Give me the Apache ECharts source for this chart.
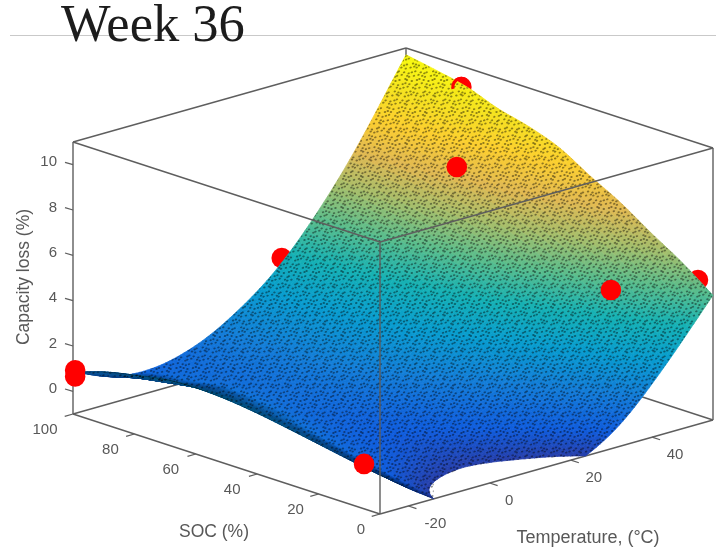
<!DOCTYPE html>
<html><head><meta charset="utf-8">
<script src="https://cdn.jsdelivr.net/npm/echarts@6/dist/echarts.min.js"></script>
<style>html,body{margin:0;padding:0;background:#fff}#c{width:716px;height:550px}</style></head>
<body><div id="c"></div>
<script>
// ---- data ----
const socGrid = [0,10,20,30,40,50,60,70,80,90,100];
const tempGrid = [-27,-17,-7,3,12.5,22.5,32,42,55];
const lossSoc0   = [0.72,-0.6,-1.7,-2.0,-1.7,-1.1,-0.05,1.75,4.5];
const lossSoc10  = [0.95,-0.25,-0.93,-1.15,-0.92,-0.35,0.75,2.63,5.5];
const lossSoc20  = [1.2,0.08,-0.40,-0.62,-0.38,0.26,1.45,3.39,6.35];
const lossSoc30  = [1.45,0.36,-0.18,-0.30,0.06,0.87,2.18,4.18,7.25];
const lossSoc40  = [1.68,0.62,0.02,-0.02,0.49,1.42,2.80,4.85,8.0];
const lossSoc50  = [1.85,0.83,0.21,0.28,0.87,1.85,3.29,5.45,8.8];
const lossSoc60  = [1.92,0.94,0.39,0.51,1.13,2.16,3.65,5.85,9.3];
const lossSoc70  = [1.85,0.91,0.44,0.60,1.27,2.35,3.92,6.15,9.65];
const lossSoc80  = [1.6,0.72,0.36,0.60,1.33,2.49,4.16,6.5,10.15];
const lossSoc90  = [1.3,0.50,0.25,0.59,1.40,2.65,4.39,6.75,10.45];
const lossSoc100 = [0.85,0.15,0.03,0.48,1.38,2.75,4.6,7.0,10.7];
const lossRows = [lossSoc0,lossSoc10,lossSoc20,lossSoc30,lossSoc40,lossSoc50,lossSoc60,lossSoc70,lossSoc80,lossSoc90,lossSoc100];
// measured points: [SOC, temperature, capacity loss]
const pointsBehind = [[100,24.4,3.28],[78,52,10.4],[4.9,55,4.96]];
const pointsSunken = [[78,52,10.4]];
const pointsFront = [[99.3,-27,0.96],[99.3,-27,0.69],[5.2,-27,0.98],[73,47.1,7.34],[22.8,47.1,4.13]];
const lossTicks = [0,2,4,6,8,10];
const socTicks = [0,20,40,60,80,100];
const tempTicks = [-20,0,20,40];
const socRange = [0,100], tempRange = [-27,55], lossRange = [-1,11];

// ---- layout of the 3D box on the hidden plane axes ----
const frontCorner=[380,514], socVec=[-307,-100], tempVec=[333,-94], lossVec=[0,-272];
const socLabelDx={0:-19,20:-23,40:-25,60:-25,80:-24,100:-28};
const tempLabelDx={'-20':27,0:19.5,20:23,40:23};
function project(s,t,l){
  const a=(s-socRange[0])/(socRange[1]-socRange[0]), b=(t-tempRange[0])/(tempRange[1]-tempRange[0]), c=(l-lossRange[0])/(lossRange[1]-lossRange[0]);
  return [frontCorner[0]+a*socVec[0]+b*tempVec[0]+c*lossVec[0], frontCorner[1]+a*socVec[1]+b*tempVec[1]+c*lossVec[1]];
}
const S0=socRange[0],S1=socRange[1],T0=tempRange[0],T1=tempRange[1],L0=lossRange[0],L1=lossRange[1];
const edgesBehind=[[S1,T1,L0,S1,T0,L0],[S1,T1,L0,S0,T1,L0],[S1,T1,L1,S1,T0,L1],[S1,T1,L1,S0,T1,L1],[S1,T1,L0,S1,T1,L1],
  [S1,T0,L0,S1,T0,L1],[S0,T1,L0,S0,T1,L1],[S1,T0,L0,S0,T0,L0],[S0,T0,L0,S0,T1,L0]];
const edgesFront=[[S0,T0,L0,S0,T0,L1],[S0,T0,L1,S1,T0,L1],[S0,T0,L1,S0,T1,L1]];

// smooth drawing of the read table
function herm(xs,ys,x){
  let i=xs.findIndex((v,k)=>k<xs.length-1&&x<=xs[k+1]);
  if(i<0)i=xs.length-2;
  const h=xs[i+1]-xs[i],u=(x-xs[i])/h;
  const m0=i>0?(ys[i+1]-ys[i-1])/(xs[i+1]-xs[i-1]):(ys[1]-ys[0])/(xs[1]-xs[0]);
  const m1=i<xs.length-2?(ys[i+2]-ys[i])/(xs[i+2]-xs[i]):(ys[i+1]-ys[i])/h;
  return (2*u*u*u-3*u*u+1)*ys[i]+(u*u*u-2*u*u+u)*h*m0+(-2*u*u*u+3*u*u)*ys[i+1]+(u*u*u-u*u)*h*m1;
}
function lossAt(s,t){return herm(socGrid,lossRows.map(r=>herm(tempGrid,r,t)),s);}

const parula=[[53,42,135],[15,92,221],[18,125,216],[7,156,207],[21,177,180],[89,189,140],[165,190,107],[225,185,82],[252,206,46],[245,227,30],[249,251,14]];
function colorOf(l){
  let v=(l+1.5)/(10.7+1.5)*10; v=Math.max(0,Math.min(9.999,v));
  const i=Math.floor(v),f=v-i,a=parula[i],b=parula[i+1];
  return 'rgb('+[0,1,2].map(k=>Math.round(a[k]+(b[k]-a[k])*f)).join(',')+')';
}
// stipple texture of the dense mesh
const tile=document.createElement('canvas');tile.width=tile.height=64;
(function(){
  const g=tile.getContext('2d');g.fillStyle='rgba(0,0,0,0.42)';
  const P=Math.PI*2/64;
  for(let r=0;r<16;r++)for(let c=0;c<16;c++){
    const x0=c*4+(r%2)*2,y0=r*4;
    const x=x0+1.0*Math.sin(P*3*y0+P*5*x0)+0.5*Math.sin(P*7*x0);
    const y=y0+1.0*Math.sin(P*4*x0-P*2*y0)+0.5*Math.cos(P*9*y0);
    for(const dx of [-64,0,64])for(const dy of [-64,0,64]){
      g.beginPath();g.ellipse(x+dx,y+dy,1.25,0.95,-0.3,0,Math.PI*2);g.fill();
    }
  }
})();
const stipple={image:tile,repeat:'repeat'};

function clipFloor(p){ // keep the part above the floor of the box
  const out=[];
  for(let i=0;i<p.length;i++){
    const a=p[i],b=p[(i+1)%p.length],ia=a[2]>=L0,ib=b[2]>=L0;
    if(ia)out.push(a);
    if(ia!==ib){const f=(L0-a[2])/(b[2]-a[2]);out.push([a[0]+(b[0]-a[0])*f,a[1]+(b[1]-a[1])*f,L0]);}
  }
  return out;
}
function area(q){let s=0;for(let i=0;i<q.length;i++){const a=q[i],b=q[(i+1)%q.length];s+=a[0]*b[1]-b[0]*a[1];}return Math.abs(s)/2;}
// cells listed back to front
const cells=[];
for(let j=socGrid.length-2;j>=0;j--)for(let i=tempGrid.length-2;i>=0;i--)cells.push([j,i]);

function cellNodes(api){
  const j=api.value(0),i=api.value(1);
  const s0=socGrid[j],s1=socGrid[j+1],t0=tempGrid[i],t1=tempGrid[i+1];
  const ns=9,nt=Math.round((t1-t0)/0.92);
  const nodes=[];
  for(let a=0;a<=ns;a++){const row=[];for(let b=0;b<=nt;b++){
    const s=s0+(s1-s0)*a/ns,t=t0+(t1-t0)*b/nt,l=lossAt(s,t),c=api.coord(project(s,t,l));
    row.push([c[0],c[1],l]);}nodes.push(row);}
  return {nodes,ns,nt};
}
function renderCell(params,api){
  const {nodes,ns,nt}=cellNodes(api);
  const children=[];
  for(let a=ns-1;a>=0;a--)for(let b=nt-1;b>=0;b--){
    const quad=[nodes[a][b],nodes[a][b+1],nodes[a+1][b+1],nodes[a+1][b]];
    const poly=clipFloor(quad);
    if(poly.length<3)continue;
    const l=(quad[0][2]+quad[1][2]+quad[2][2]+quad[3][2])/4,col=colorOf(l);
    const pts=poly.map(p=>[p[0],p[1]]);
    children.push({type:'polygon',shape:{points:pts},style:{fill:col,stroke:col,lineWidth:0.7}});
    const ar=area(quad);
    if(ar<4.5){ // foreshortened mesh reads darker
      const k=(4.5-ar)/4.5*0.95;
      children.push({type:'polygon',shape:{points:pts},style:{fill:'rgba(0,0,20,'+k.toFixed(3)+')',stroke:'rgba(0,0,20,'+k.toFixed(3)+')',lineWidth:0.5}});
    }
  }
  return {type:'group',children};
}
function renderStipple(params,api){
  const {nodes,ns,nt}=cellNodes(api);
  const ring=[];
  for(let b=0;b<=nt;b++)ring.push(nodes[0][b]);
  for(let a=1;a<=ns;a++)ring.push(nodes[a][nt]);
  for(let b=nt-1;b>=0;b--)ring.push(nodes[ns][b]);
  for(let a=ns-1;a>0;a--)ring.push(nodes[a][0]);
  const poly=clipFloor(ring);
  if(poly.length<3)return null;
  return {type:'polygon',shape:{points:poly.map(p=>[p[0],p[1]])},style:{fill:stipple}};
}
const font=s=>s+'px "Liberation Sans", Arial, sans-serif';
const textCol='#585858', lineCol='#5e5e5e';
function lineRender(params,api){
  const a=api.coord(project(api.value(0),api.value(1),api.value(2))),b=api.coord(project(api.value(3),api.value(4),api.value(5)));
  return {type:'line',shape:{x1:a[0],y1:a[1],x2:b[0],y2:b[1]},style:{stroke:lineCol,lineWidth:1.4}};
}
function dotRender(params,api){
  const c=api.coord(project(api.value(0),api.value(1),api.value(2)));
  return {type:'circle',shape:{cx:c[0],cy:c[1],r:10.3},style:{fill:'#ff0000'}};
}
function sunkenRender(params,api){
  const c=api.coord(project(api.value(0),api.value(1),api.value(2)));
  return {type:'arc',shape:{cx:c[0],cy:c[1],r:8.6,startAngle:Math.PI*0.93,endAngle:Math.PI*1.7,clockwise:true},style:{stroke:'#ff0000',fill:null,lineWidth:3.2}};
}
function tickRender(kind,oy,tx,ty){
  return function(params,api){
    const v=api.value(0);
    const q=kind==='soc'?project(v,T0,L0):kind==='temp'?project(S0,v,L0):project(S1,T0,v);
    const c=api.coord(q);
    const ox=kind==='soc'?socLabelDx[v]:kind==='temp'?tempLabelDx[v]:-16;
    return {type:'group',children:[
      {type:'line',shape:{x1:c[0],y1:c[1],x2:c[0]+tx,y2:c[1]+ty},style:{stroke:lineCol,lineWidth:1.2}},
      {type:'text',x:c[0]+ox,y:c[1]+oy,style:{text:String(v),fill:textCol,font:font(15),align:kind==='loss'?'right':'center',verticalAlign:'middle'}}
    ]};
  };
}
const base={type:'custom',coordinateSystem:'cartesian2d',silent:true,animation:false,clip:false,progressive:0};
const chart=echarts.init(document.getElementById('c'),null,{renderer:'canvas'});
chart.setOption({
  animation:false,backgroundColor:'#fff',
  title:{text:'Week 36',left:56,top:-4,textStyle:{fontFamily:'"Liberation Serif", serif',fontSize:52.5,fontWeight:'normal',color:'#1c1c1c'}},
  grid:{left:0,right:0,top:0,bottom:0},
  xAxis:{type:'value',min:0,max:716,show:false},
  yAxis:{type:'value',min:0,max:550,inverse:true,show:false},
  graphic:[
    {type:'line',z:-1,shape:{x1:10,y1:35.5,x2:716,y2:35.5},style:{stroke:'#c9c9c9',lineWidth:1}},
    {type:'text',z:6,x:214,y:532,style:{text:'SOC (%)',fill:textCol,font:font(17.5),align:'center',verticalAlign:'middle'}},
    {type:'text',z:6,x:588,y:538,style:{text:'Temperature, (\u00B0C)',fill:textCol,font:font(18),align:'center',verticalAlign:'middle'}},
    {type:'text',z:6,x:24,y:277,rotation:Math.PI/2,style:{text:'Capacity loss (%)',fill:textCol,font:font(17.5),align:'center',verticalAlign:'middle'}}
  ],
  series:[
    Object.assign({},base,{name:'box back',z:1,data:edgesBehind,renderItem:lineRender}),
    Object.assign({},base,{name:'points behind',z:2,data:pointsBehind,renderItem:dotRender}),
    Object.assign({},base,{name:'surface',z:3,data:cells,renderItem:renderCell}),
    Object.assign({},base,{name:'surface mesh',z:3.5,data:cells,renderItem:renderStipple}),
    Object.assign({},base,{name:'points front',z:4,data:pointsFront,renderItem:dotRender}),
    Object.assign({},base,{name:'sunken point',z:4,data:pointsSunken,renderItem:sunkenRender}),
    Object.assign({},base,{name:'box front',z:5,data:edgesFront,renderItem:lineRender}),
    Object.assign({},base,{name:'loss ticks',z:5,data:lossTicks.map(v=>[v]),renderItem:tickRender('loss',-2.5,-8,-2.3)}),
    Object.assign({},base,{name:'soc ticks',z:5,data:socTicks.map(v=>[v]),renderItem:tickRender('soc',16,-8.3,2.35)}),
    Object.assign({},base,{name:'temp ticks',z:5,data:tempTicks.map(v=>[v]),renderItem:tickRender('temp',17.5,8,2.6)})
  ]
});
</script></body></html>
